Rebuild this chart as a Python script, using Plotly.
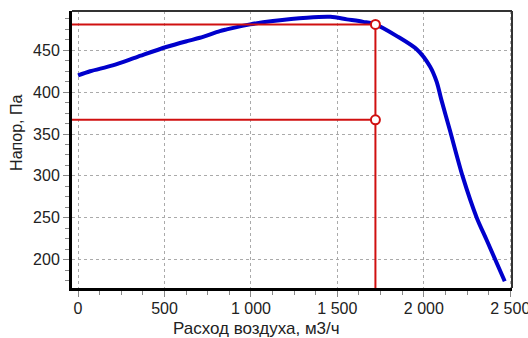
import plotly.graph_objects as go

flow = [0, 70, 200, 340, 510, 630, 705, 820, 860, 995, 1127, 1324, 1460, 1555, 1650, 1720,
        1844, 1960, 2035, 2075, 2100, 2150, 2225, 2306, 2364, 2468]
pressure = [420, 425, 432, 442, 454, 461, 465, 473, 475, 481, 485, 489, 490, 487, 484, 481,
            467, 451, 431, 412, 392, 355, 299, 250, 223, 174]

op_flow = 1720
op_pressure = [481, 367]

x_ticks = [0, 500, 1000, 1500, 2000, 2500]
x_labels = ["0", "500", "1 000", "1 500", "2 000", "2 500"]
y_ticks = [200, 250, 300, 350, 400, 450]

xmin, xmax = -35, 2510
ymin, ymax = 166, 497

RED = "#D01010"
BLUE = "#0000CC"

fig = go.Figure()
fig.add_trace(go.Scatter(x=flow, y=pressure, mode="lines",
                         line=dict(color=BLUE, width=4, shape="spline", smoothing=0.8),
                         hoverinfo="skip"))
for p in op_pressure:
    fig.add_trace(go.Scatter(x=[xmin, op_flow], y=[p, p], mode="lines",
                             line=dict(color=RED, width=2), hoverinfo="skip"))
fig.add_trace(go.Scatter(x=[op_flow, op_flow], y=[max(op_pressure), ymin], mode="lines",
                         line=dict(color=RED, width=2), hoverinfo="skip"))
fig.add_trace(go.Scatter(x=[op_flow] * len(op_pressure), y=op_pressure, mode="markers",
                         marker=dict(size=9, color="white", line=dict(color=RED, width=2)),
                         hoverinfo="skip"))

FAM = "Liberation Sans, Arial, sans-serif"
tickfont = dict(family=FAM, size=16, color="#222")
titlefont = dict(family=FAM, size=17, color="#222")

fig.update_layout(
    width=528, height=338,
    margin=dict(l=72, r=16, t=11, b=50),
    paper_bgcolor="white", plot_bgcolor="white",
    showlegend=False,
    xaxis=dict(range=[xmin, xmax], tickvals=x_ticks, ticktext=x_labels, automargin=False,
               ticklabeloverflow="allow",
               showgrid=True, gridcolor="#aaaaaa", griddash="dot", gridwidth=1,
               showline=True, linecolor="black", linewidth=3,
               ticks="outside", ticklen=6, tickcolor="#888", tickwidth=1,
               minor=dict(dtick=125, ticks="outside", ticklen=4, tickcolor="#888", showgrid=False),
               zeroline=False, tickfont=tickfont, ticklabelstandoff=-2),
    yaxis=dict(range=[ymin, ymax], tickvals=y_ticks, automargin=False,
               showgrid=True, gridcolor="#aaaaaa", griddash="dot", gridwidth=1,
               showline=True, linecolor="black", linewidth=3,
               ticks="outside", ticklen=6, tickcolor="#888", tickwidth=1,
               minor=dict(dtick=12.5, ticks="outside", ticklen=4, tickcolor="#888", showgrid=False),
               zeroline=False, tickfont=tickfont),
    shapes=[
        dict(type="line", xref="paper", yref="paper", x0=0, x1=1, y0=1, y1=1,
             line=dict(color="#333", width=2)),
        dict(type="line", xref="paper", yref="paper", x0=1, x1=1, y0=0, y1=1,
             line=dict(color="#333", width=2)),
    ],
    annotations=[
        dict(text="Расход воздуха, м3/ч", xref="paper", yref="paper", x=0.42, y=0,
             yshift=-40, xanchor="center", yanchor="middle", showarrow=False, font=titlefont),
        dict(text="Напор, Па", xref="paper", yref="paper", x=0, y=0.56,
             xshift=-55, xanchor="center", yanchor="middle", textangle=-90,
             showarrow=False, font=dict(family=FAM, size=16, color="#222")),
    ],
)

fig.write_html("out.html")
